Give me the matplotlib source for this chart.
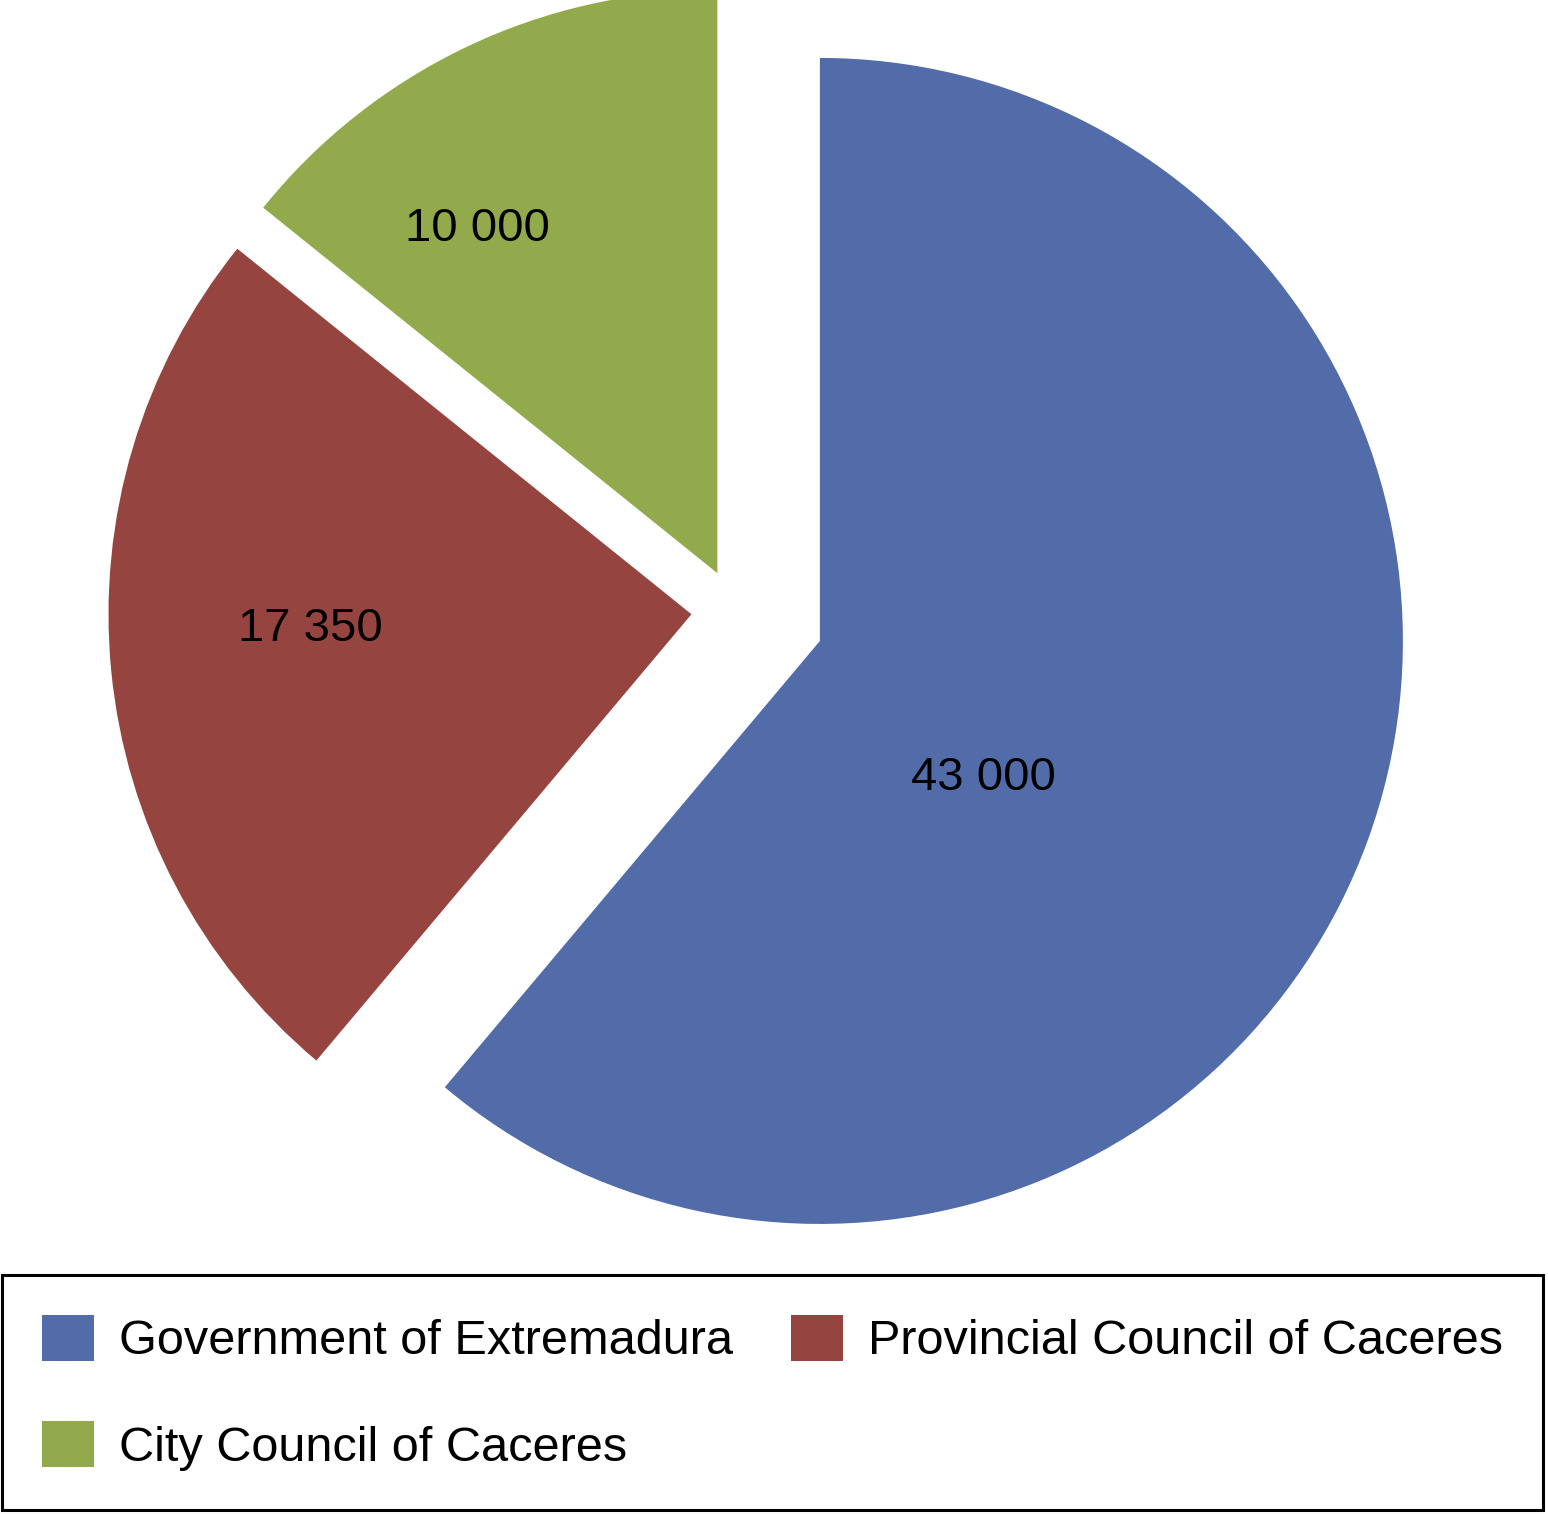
import matplotlib
matplotlib.use("Agg")
import numpy as np
import matplotlib.pyplot as plt
from matplotlib.patches import Patch

#_____________________________________________________________________________#
#_________________DATA________________________________________________________#
#_____________________________________________________________________________#

names  = ['Government of Extremadura', 'Provincial Council of Caceres',
          'City Council of Caceres']
values = [43000, 17350, 10000]
colours = ['#526BA9', '#964440', '#93AA4C']

#_____________________________________________________________________________#
#_________________LAYOUT______________________________________________________#
#_____________________________________________________________________________#

W, H = 1548, 1514          # px
cx, cy = 735, 610          # pie centre in px (from top left)
R = 583                    # pie radius in px
explode = [0.155, 0.075, 0.07]
# label placement: distance from wedge tip (in radii), angle offset (deg)
lab_dist = [0.366, 0.655, 0.72]
lab_off  = [-20.0, -3.3, 9.3]

plt.rcParams['font.family'] = ['Liberation Sans', 'DejaVu Sans']

fig = plt.figure(figsize=(W/100, H/100), dpi=100)
ax = fig.add_axes([0, 0, 1, 1])

wedges, texts, autotexts = ax.pie(values, colors=colours, explode=explode,
                                  startangle=90, counterclock=False,
                                  autopct='%1.0f', radius=1,
                                  wedgeprops=dict(linewidth=0))

def fmt(v):
    return "{:,}".format(v).replace(",", " ")

for w, t, v, d, off in zip(wedges, autotexts, values, lab_dist, lab_off):
    mid = np.deg2rad(0.5*(w.theta1 + w.theta2) + off)
    x0, y0 = w.center
    t.set_position((x0 + d*np.cos(mid), y0 + d*np.sin(mid)))
    t.set_text(fmt(v))
    t.set_fontsize(34)
    t.set_color('black')
    t.set_ha('center')
    t.set_va('center')

ax.set_aspect('auto')
ax.set_xlim(-cx/R, (W - cx)/R)
ax.set_ylim(-(H - cy)/R, cy/R)
ax.axis('off')

#_____________________________________________________________________________#
#_________________LEGEND______________________________________________________#
#_____________________________________________________________________________#

# legend fills column by column, reorder so it reads row by row
order = [0, 2, 1]
handles = [Patch(facecolor=colours[i], edgecolor='none') for i in order]
labels  = [names[i] for i in order]
leg = fig.legend(handles, labels, loc='upper left',
                 bbox_to_anchor=(2/W, 0.0, 1541/W, 1 - 1275/H),
                 mode='expand', borderaxespad=0, ncol=2, fontsize=35,
                 handlelength=1.07, handleheight=1.07, handletextpad=0.51,
                 borderpad=0.82, labelspacing=1.17, columnspacing=1.1,
                 fancybox=False, framealpha=1, edgecolor='black')
leg.get_frame().set_linewidth(2.2)

fig.savefig('out.png', dpi=100, facecolor='white')
